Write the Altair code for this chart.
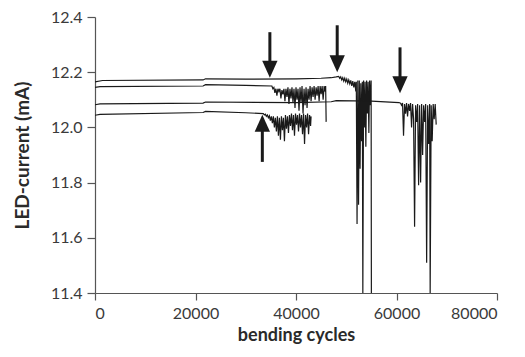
import altair as alt
import pandas as pd

# Series A (top, ~12.17)
a_x = [0, 1500, 21500, 22000, 30000, 40000, 45000, 47000, 48000,
       48500, 48700, 48900, 49100, 49300, 49500, 49700, 49900, 50100, 50300, 50500, 50700, 50900,
       51100, 51300, 51500, 51700, 51900, 52000, 52150, 52300, 52450, 52600, 52750, 52900, 53050,
       53200, 53300, 53450, 53600, 53750, 53900, 54050, 54200, 54350, 54500, 54650, 54800, 54950, 55000]
a_y = [12.165, 12.170, 12.172, 12.176, 12.175, 12.176, 12.178, 12.180, 12.183,
       12.185, 12.178, 12.183, 12.172, 12.180, 12.168, 12.178, 12.165, 12.175, 12.160, 12.172, 12.158, 12.170,
       12.150, 12.168, 12.145, 12.165, 12.130, 12.165, 11.650, 12.170, 11.720, 12.170, 11.850, 12.160, 11.950,
       12.165, 11.400, 12.170, 12.000, 12.165, 11.930, 12.170, 12.050, 12.165, 11.980, 12.170, 12.080, 12.170, 11.400]

# Series B (~12.15)
b_x = [0, 1000, 21500, 22000, 30000,
       35200, 35400, 35600, 35800, 36000, 36200, 36400, 36600, 36800, 37000, 37200, 37400, 37600, 37800,
       38000, 38200, 38400, 38600, 38800, 39000, 39200, 39400, 39600, 39800, 40000, 40200, 40400, 40600,
       40800, 41000, 41200, 41400, 41600, 41800, 42000, 42200, 42400, 42600, 42800, 43000, 43200, 43400,
       43600, 43800, 44000, 44200, 44400, 44600, 44800, 45000, 45200, 45400, 45600, 45800, 45900, 46000]
b_y = [12.145, 12.148, 12.150, 12.155, 12.152,
       12.150, 12.140, 12.145, 12.125, 12.140, 12.115, 12.140, 12.130, 12.140, 12.105, 12.135, 12.120, 12.140, 12.095,
       12.140, 12.110, 12.145, 12.085, 12.140, 12.105, 12.145, 12.090, 12.140, 12.070, 12.145, 12.100, 12.140, 12.060,
       12.145, 12.090, 12.150, 12.050, 12.140, 12.080, 12.145, 12.070, 12.140, 12.100, 12.150, 12.095, 12.145, 12.110,
       12.150, 12.100, 12.145, 12.115, 12.150, 12.095, 12.150, 12.120, 12.150, 12.100, 12.150, 12.130, 12.150, 12.020]

# Series C (~12.09)
c_x = [0, 1000, 21500, 22000, 40000, 47000, 48000, 55000,
       60500, 60800, 61000, 61200, 61400, 61600, 61800, 62000, 62200, 62400, 62600, 62800, 63000, 63200,
       63400, 63600, 63800, 64000, 64200, 64400, 64600, 64800, 65000, 65200, 65400, 65600, 65800, 66000,
       66200, 66400, 66600, 66700, 66900, 67100, 67300, 67500, 67700, 67900]
c_y = [12.082, 12.085, 12.088, 12.092, 12.090, 12.093, 12.097, 12.095,
       12.090, 12.088, 12.080, 12.088, 11.970, 12.085, 12.050, 12.088, 12.040, 12.085, 12.060, 12.088, 12.000, 12.085,
       12.030, 11.640, 12.080, 12.020, 12.085, 11.790, 12.080, 11.800, 12.085, 11.900, 12.080, 12.020, 12.085, 11.510,
       12.080, 11.940, 12.085, 11.400, 12.080, 11.950, 12.085, 12.030, 12.085, 12.010]

# Series D (~12.05)
d_x = [0, 1000, 21500, 22000, 30000,
       33500, 33700, 33900, 34100, 34300, 34500, 34700, 34900, 35100, 35300, 35500, 35700, 35900, 36100,
       36300, 36500, 36700, 36900, 37100, 37300, 37500, 37700, 37900, 38100, 38300, 38500, 38700, 38900,
       39100, 39300, 39500, 39700, 39900, 40100, 40300, 40500, 40700, 40900, 41100, 41300, 41500, 41700,
       41900, 42100, 42300, 42500, 42700, 42900, 43000]
d_y = [12.044, 12.047, 12.054, 12.058, 12.053,
       12.050, 12.045, 12.048, 12.040, 12.045, 12.035, 12.042, 12.025, 12.040, 12.015, 12.040, 12.000, 12.035, 11.985,
       12.040, 11.970, 12.035, 11.955, 12.040, 11.990, 12.035, 11.950, 12.045, 11.995, 12.040, 11.980, 12.045, 12.005,
       12.050, 11.990, 12.045, 11.970, 12.050, 12.010, 12.045, 11.985, 12.050, 12.000, 12.045, 11.975, 12.050, 11.940,
       12.045, 12.000, 12.050, 11.975, 12.045, 12.005, 12.040]

# Arrows
arrow_x = [34800, 48200, 60700, 33300]
arrow_tail = [12.345, 12.370, 12.290, 11.875]
arrow_tip = [12.180, 12.200, 12.124, 12.046]
arrow_dir = ["down", "down", "down", "up"]

x_ticks = [0, 20000, 40000, 60000, 80000]
y_ticks = [11.4, 11.6, 11.8, 12.0, 12.2, 12.4]

rows = []
for name, xs, ys in [("A", a_x, a_y), ("B", b_x, b_y), ("C", c_x, c_y), ("D", d_x, d_y)]:
    for x, y in zip(xs, ys):
        rows.append({"series": name, "cycles": x, "current": y})
df = pd.DataFrame(rows)

arr = pd.DataFrame({"x": arrow_x, "tail": arrow_tail, "tip": arrow_tip, "dir": arrow_dir})
arr["end"] = [t + 0.03 if d == "down" else t - 0.03 for t, d in zip(arr["tip"], arr["dir"])]

xs = alt.Scale(domain=[0, 80000], nice=False)
ys = alt.Scale(domain=[11.4, 12.4], nice=False)

FONT = "Lato"
INK = "#1a1a1a"

lines = alt.Chart(df).mark_line(strokeWidth=1.2, color=INK, clip=True).encode(
    x=alt.X("cycles:Q", scale=xs,
            axis=alt.Axis(title="bending cycles", values=x_ticks, format="d")),
    y=alt.Y("current:Q", scale=ys,
            axis=alt.Axis(title="LED-current (mA)", values=y_ticks, format=".1f")),
    detail="series:N",
    order="cycles:Q",
)

shafts = alt.Chart(arr).mark_rule(strokeWidth=3, color=INK).encode(
    x="x:Q", y="tail:Q", y2="end:Q"
)

heads_down = alt.Chart(arr).transform_filter(alt.datum.dir == "down").mark_point(
    shape="M-0.45,-1L0.45,-1L0,0Z", filled=True, opacity=1, color=INK, size=1156, strokeWidth=0
).encode(x="x:Q", y="tip:Q")

heads_up = alt.Chart(arr).transform_filter(alt.datum.dir == "up").mark_point(
    shape="M-0.45,1L0.45,1L0,0Z", filled=True, opacity=1, color=INK, size=1156, strokeWidth=0
).encode(x="x:Q", y="tip:Q")

chart = alt.layer(lines, shafts, heads_down, heads_up).properties(
    width=402, height=276,
    autosize=alt.AutoSizeParams(type="none"),
    padding={"left": 87, "top": 9, "right": 20, "bottom": 56},
).configure_view(stroke=None).configure_axis(
    grid=False,
    domainColor="#555555",
    tickColor="#555555",
    domainWidth=1.2,
    tickWidth=1.2,
    labelFont=FONT,
    labelFontSize=16,
    labelColor="#3a3a3a",
    titleFont=FONT,
    titleFontSize=19,
    titleFontWeight="bold",
    titleColor="#2a2a2a",
).configure_axisX(
    tickSize=7, labelPadding=5, titlePadding=5, titleFontSize=18
).configure_axisY(
    tickSize=8, labelPadding=5, titlePadding=18
)

chart.save("out.html", embed_options={"renderer": "svg", "actions": False})
